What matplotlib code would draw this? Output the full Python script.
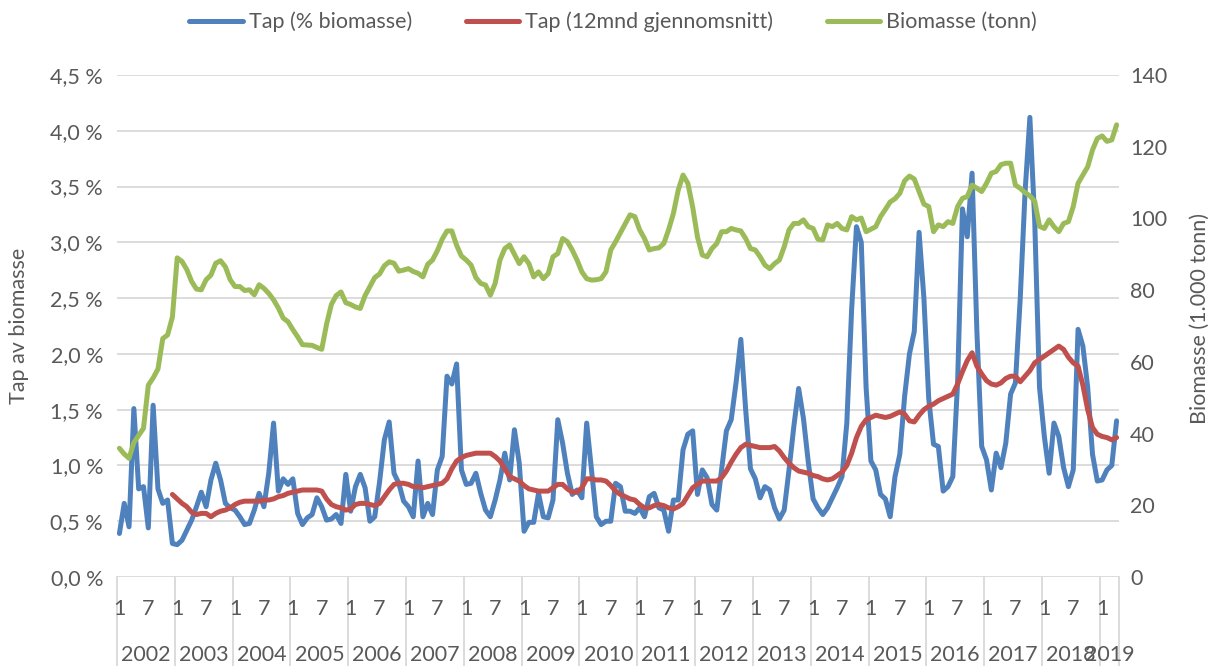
import numpy as np
import matplotlib
matplotlib.use("Agg")
import matplotlib.pyplot as plt
import matplotlib.transforms as mtransforms
from matplotlib.lines import Line2D

plt.rcParams['font.family'] = ['Lato', 'DejaVu Sans']

# ---- data -------------------------------------------------------------
years = [2002, 2003, 2004, 2005, 2006, 2007, 2008, 2009, 2010,
         2011, 2012, 2013, 2014, 2015, 2016, 2017, 2018, 2019]
months_per_year = [12] * 17 + [4]
month_ticks = [1, 7]

# monthly loss, % of biomass
tap_pct = [
    0.39, 0.66, 0.45, 1.51, 0.79, 0.81, 0.44, 1.54, 0.79, 0.66, 0.69, 0.30,   # 2002
    0.29, 0.33, 0.42, 0.51, 0.63, 0.76, 0.63, 0.87, 1.02, 0.87, 0.66, 0.62,   # 2003
    0.60, 0.54, 0.47, 0.48, 0.60, 0.75, 0.63, 0.93, 1.38, 0.77, 0.88, 0.83,   # 2004
    0.88, 0.57, 0.47, 0.53, 0.56, 0.71, 0.63, 0.51, 0.52, 0.56, 0.48, 0.92,   # 2005
    0.59, 0.81, 0.92, 0.80, 0.50, 0.54, 0.85, 1.23, 1.39, 0.93, 0.84, 0.68,   # 2006
    0.63, 0.54, 1.04, 0.54, 0.66, 0.56, 0.96, 1.08, 1.80, 1.73, 1.91, 0.96,   # 2007
    0.83, 0.84, 0.93, 0.75, 0.60, 0.54, 0.69, 0.87, 1.11, 0.87, 1.32, 1.02,   # 2008
    0.41, 0.49, 0.49, 0.75, 0.54, 0.53, 0.69, 1.41, 1.20, 0.93, 0.74, 0.78,   # 2009
    0.71, 1.38, 0.96, 0.54, 0.47, 0.50, 0.50, 0.84, 0.81, 0.59, 0.59, 0.57,   # 2010
    0.62, 0.54, 0.72, 0.75, 0.62, 0.60, 0.41, 0.69, 0.69, 1.14, 1.28, 1.31,   # 2011
    0.74, 0.96, 0.89, 0.65, 0.60, 0.96, 1.31, 1.41, 1.74, 2.13, 1.50, 0.97,   # 2012
    0.88, 0.71, 0.81, 0.78, 0.62, 0.52, 0.60, 0.96, 1.35, 1.69, 1.42, 1.03,   # 2013
    0.70, 0.62, 0.56, 0.62, 0.71, 0.80, 0.90, 1.38, 2.40, 3.14, 3.00, 1.70,   # 2014
    1.04, 0.96, 0.74, 0.70, 0.54, 0.90, 1.10, 1.62, 2.00, 2.20, 3.09, 2.50,   # 2015
    1.60, 1.19, 1.17, 0.77, 0.81, 0.90, 1.75, 3.30, 3.05, 3.62, 2.20, 1.17,   # 2016
    1.05, 0.78, 1.11, 0.98, 1.20, 1.64, 1.74, 2.50, 3.45, 4.12, 3.20, 1.70,   # 2017
    1.26, 0.93, 1.38, 1.26, 0.98, 0.81, 0.96, 2.22, 2.07, 1.70, 1.10, 0.86,   # 2018
    0.87, 0.96, 1.00, 1.40,                                                   # 2019
]

# 12-month average of the loss, starting December 2002
tap_12m = [np.nan] * 11 + [
    0.74,                                                                     # 2002
    0.70, 0.66, 0.63, 0.58, 0.56, 0.57, 0.57, 0.54, 0.57, 0.59, 0.60, 0.62,   # 2003
    0.65, 0.67, 0.68, 0.68, 0.68, 0.68, 0.69, 0.69, 0.70, 0.72, 0.73, 0.75,   # 2004
    0.76, 0.77, 0.78, 0.78, 0.78, 0.78, 0.77, 0.70, 0.65, 0.63, 0.62, 0.60,   # 2005
    0.61, 0.65, 0.66, 0.66, 0.65, 0.64, 0.66, 0.72, 0.78, 0.83, 0.84, 0.84,   # 2006
    0.83, 0.81, 0.81, 0.80, 0.81, 0.82, 0.83, 0.84, 0.88, 0.97, 1.04, 1.07,   # 2007
    1.09, 1.10, 1.11, 1.11, 1.11, 1.11, 1.08, 1.04, 0.97, 0.90, 0.88, 0.86,   # 2008
    0.82, 0.79, 0.78, 0.77, 0.77, 0.77, 0.80, 0.83, 0.83, 0.79, 0.76, 0.76,   # 2009
    0.80, 0.88, 0.88, 0.87, 0.87, 0.86, 0.82, 0.77, 0.74, 0.72, 0.70, 0.69,   # 2010
    0.65, 0.62, 0.62, 0.64, 0.65, 0.64, 0.62, 0.61, 0.63, 0.66, 0.73, 0.80,   # 2011
    0.83, 0.86, 0.86, 0.86, 0.86, 0.89, 0.95, 1.03, 1.10, 1.16, 1.19, 1.18,   # 2012
    1.17, 1.16, 1.16, 1.16, 1.17, 1.13, 1.07, 1.02, 0.98, 0.95, 0.94, 0.93,   # 2013
    0.91, 0.90, 0.88, 0.87, 0.88, 0.91, 0.94, 1.00, 1.11, 1.25, 1.35, 1.41,   # 2014
    1.43, 1.45, 1.44, 1.43, 1.44, 1.46, 1.48, 1.46, 1.40, 1.39, 1.45, 1.50,   # 2015
    1.53, 1.55, 1.58, 1.60, 1.62, 1.64, 1.73, 1.84, 1.94, 2.01, 1.89, 1.82,   # 2016
    1.76, 1.73, 1.72, 1.74, 1.78, 1.80, 1.80, 1.75, 1.80, 1.85, 1.92, 1.95,   # 2017
    1.98, 2.01, 2.04, 2.07, 2.04, 1.97, 1.92, 1.89, 1.72, 1.50, 1.34, 1.28,   # 2018
    1.26, 1.25, 1.23, 1.25,                                                   # 2019
]

# standing biomass, 1 000 tonnes
biomasse = [
    35.9, 34.3, 33.1, 37.5, 39.5, 41.5, 53.5, 55.5, 58.0, 66.5, 67.5, 72.5,             # 2002
    89.0, 88.0, 85.7, 82.4, 80.3, 80.1, 82.9, 84.2, 87.5, 88.2, 86.5, 82.9,             # 2003
    81.0, 81.0, 79.9, 80.1, 78.7, 81.5, 80.5, 79.1, 77.3, 75.0, 72.2, 71.2,             # 2004
    69.0, 67.0, 64.8, 64.7, 64.6, 64.0, 63.5, 70.5, 76.0, 78.5, 79.5, 76.5,             # 2005
    76.0, 75.3, 74.9, 78.5, 81.0, 83.5, 84.5, 86.8, 87.9, 87.5, 85.3, 85.6,             # 2006
    86.0, 85.2, 84.7, 83.7, 87.2, 88.4, 91.0, 94.2, 96.5, 96.5, 92.5, 89.5,             # 2007
    88.4, 87.0, 83.5, 81.9, 81.4, 78.6, 81.9, 88.4, 91.6, 92.6, 90.0, 87.4,             # 2008
    89.3, 87.4, 83.7, 85.1, 83.2, 84.6, 89.3, 90.2, 94.4, 93.5, 91.2, 88.4,             # 2009
    85.1, 83.2, 82.8, 82.9, 83.2, 85.1, 91.2, 93.5, 96.0, 98.5, 101.0, 100.5,           # 2010
    96.8, 94.4, 91.2, 91.6, 91.8, 93.0, 96.8, 101.4, 107.9, 112.1, 109.8, 103.2,        # 2011
    94.8, 89.8, 89.3, 91.6, 93.0, 96.3, 96.3, 97.2, 96.8, 96.5, 94.4, 91.6,             # 2012
    91.2, 89.3, 87.0, 86.0, 87.4, 88.4, 92.1, 96.8, 98.6, 98.6, 99.6, 97.7,             # 2013
    97.2, 94.2, 94.0, 98.2, 97.7, 98.6, 97.2, 96.8, 100.5, 99.6, 100.1, 96.3,           # 2014
    97.0, 97.7, 100.5, 102.5, 104.6, 105.5, 107.0, 110.5, 111.8, 111.0, 107.5, 104.0,   # 2015
    103.3, 96.3, 98.2, 97.7, 99.1, 98.6, 103.3, 105.6, 106.1, 109.3, 108.4, 107.5,      # 2016
    109.8, 112.6, 113.1, 115.0, 115.4, 115.4, 109.3, 108.4, 107.2, 106.3, 104.8, 97.8,  # 2017
    97.2, 99.6, 97.7, 96.3, 98.6, 99.1, 103.3, 109.8, 112.1, 114.4, 119.1, 122.3,       # 2018
    123.0, 121.5, 121.9, 126.1,                                                         # 2019
]

# ---- style ------------------------------------------------------------
BLUE = '#4F81BD'
RED = '#C0504D'
GREEN = '#9BBB59'
GRID = '#D9D9D9'
TEXT = '#595959'
FS = 15.5
LW = 3.6

W, H = 1214, 666
fig = plt.figure(figsize=(W / 100, H / 100), dpi=100)
ax = fig.add_axes([117 / W, 89 / H, 1002 / W, 502 / H])
ax2 = ax.twinx()

n = len(tap_pct)
x = np.arange(n)

ax.set_xlim(-0.5, n - 0.5)
ax.set_ylim(0, 4.5)
ax2.set_ylim(0, 140)

# horizontal gridlines on the primary axis
for v in np.arange(0, 4.51, 0.5):
    ax.axhline(v, color=GRID, lw=1.3, zorder=0)

ax.plot(x, tap_pct, color=BLUE, lw=LW, solid_joinstyle='round',
        solid_capstyle='round', zorder=3)
ax.plot(x, tap_12m, color=RED, lw=LW, solid_joinstyle='round',
        solid_capstyle='round', zorder=4)
ax2.plot(x, biomasse, color=GREEN, lw=LW, solid_joinstyle='round',
         solid_capstyle='round', zorder=3)

for a in (ax, ax2):
    for s in a.spines.values():
        s.set_visible(False)
    a.set_xticks([])

ax.set_yticks(np.arange(0, 4.51, 0.5))
ax.set_yticklabels([f"{v:.1f} %".replace('.', ',') for v in np.arange(0, 4.51, 0.5)])
ax.tick_params(axis='y', length=0, pad=10, labelsize=FS, labelcolor=TEXT)

ax2.set_yticks(range(0, 141, 20))
ax2.set_yticklabels([str(v) for v in range(0, 141, 20)])
ax2.tick_params(axis='y', length=0, pad=8, labelsize=FS, labelcolor=TEXT)

# two-level category axis: month numbers and years
trans = mtransforms.blended_transform_factory(ax.transData, ax.transAxes)
starts = np.concatenate([[0], np.cumsum(months_per_year)[:-1]])
bounds = np.concatenate([[0], np.cumsum(months_per_year)]) - 0.5
for b in bounds:
    ax.plot([b, b], [0, -0.2], transform=trans, color=GRID, lw=1.3,
            clip_on=False, zorder=1)
for yr, s0, cnt in zip(years, starts, months_per_year):
    for m in month_ticks:
        if m <= cnt:
            ax.text(s0 + m - 1, -0.064, str(m), transform=trans, ha='center',
                    va='center', fontsize=FS, color=TEXT)
    ax.text(s0 + (cnt - 1) / 2, -0.155, str(yr), transform=trans,
            ha='center', va='center', fontsize=FS, color=TEXT)

# axis titles
fig.text(19 / W, 1 - 326 / H, 'Tap av biomasse', rotation=90, ha='center',
         va='center', fontsize=FS, color=TEXT)
fig.text(1200 / W, 1 - 318 / H, 'Biomasse (1.000 tonn)', rotation=90,
         ha='center', va='center', fontsize=FS, color=TEXT)

handles = [Line2D([], [], color=BLUE, lw=LW, solid_capstyle='round'),
           Line2D([], [], color=RED, lw=LW, solid_capstyle='round'),
           Line2D([], [], color=GREEN, lw=LW, solid_capstyle='round')]
labels = ['Tap (% biomasse)', 'Tap (12mnd gjennomsnitt)', 'Biomasse (tonn)']
fig.legend(handles, labels, loc='center', bbox_to_anchor=(613 / W, 1 - 22 / H),
           ncol=3, frameon=False, fontsize=FS, handlelength=2.5,
           handletextpad=0.25, columnspacing=2.5, labelcolor=TEXT)

fig.savefig('out.png', dpi=100)
